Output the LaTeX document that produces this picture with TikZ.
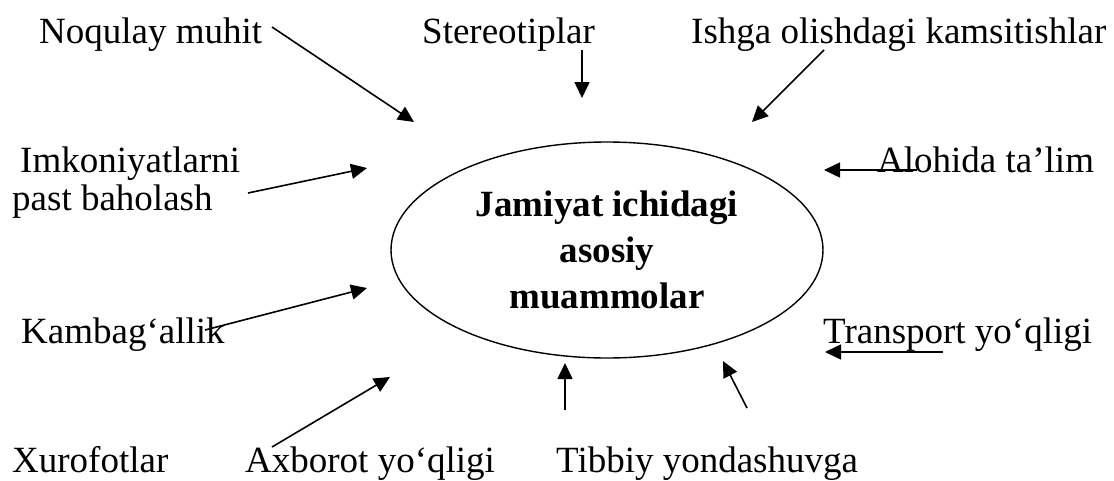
\documentclass[tikz,border=0pt]{standalone}
\usepackage{fontspec}
\setmainfont{Liberation Serif}
\usetikzlibrary{arrows.meta,shapes.geometric}
\begin{document}
\begin{tikzpicture}[x=1pt,y=-1pt,
  lbl/.style={font=\fontsize{37}{44}\selectfont, inner sep=0pt, anchor=base west},
  arr/.style={line width=1.6pt, -{Triangle[length=16pt,width=15pt]}}]
\useasboundingbox (0,0) rectangle (1114,480);
\node[draw, ellipse, line width=1.4pt, minimum width=432pt, minimum height=216pt,
      align=center, font=\fontsize{37}{46}\selectfont\bfseries] (core) at (607,250)
      {Jamiyat ichidagi\\asosiy\\muammolar};
% labels
\node[lbl] (noq) at (39,43) {Noqulay muhit};
\node[lbl] (ster) at (422,43) {Stereotiplar};
\node[lbl] (ishga) at (691,43) {Ishga olishdagi kamsitishlar};
\node[lbl] (imk) at (20,172) {Imkoniyatlarni};
\node[lbl] (past) at (12,210) {past baholash};
\node[lbl] (aloh) at (877,172) {Alohida ta’lim};
\node[lbl] (kamb) at (21,343) {Kambag‘allik};
\node[lbl] (trans) at (823,343) {Transport yo‘qligi};
\node[lbl] (xur) at (12,472) {Xurofotlar};
\node[lbl] (axb) at (245,472) {Axborot yo‘qligi};
\node[lbl] (tibb) at (556,472) {Tibbiy yondashuvga};
% arrow end points
\coordinate (noqA) at (272,27);   \coordinate (noqB) at (414,122);
\coordinate (sterA) at (582,50);  \coordinate (sterB) at (582,98);
\coordinate (ishA) at (824,50);   \coordinate (ishB) at (752,122);
\coordinate (imkA) at (248,193);  \coordinate (imkB) at (367,168);
\coordinate (alA) at (917,170);   \coordinate (alB) at (824,170);
\coordinate (kaA) at (205,330);   \coordinate (kaB) at (367,288);
\coordinate (trA) at (943,352);   \coordinate (trB) at (825,352);
\coordinate (axA) at (272,447);   \coordinate (axB) at (390,377);
\coordinate (tiA) at (565,410);   \coordinate (tiB) at (565,363);
\coordinate (tdA) at (747,408);   \coordinate (tdB) at (723,361);
% arrows
\draw[arr] (noqA) -- (noqB);
\draw[arr] (sterA) -- (sterB);
\draw[arr] (ishA) -- (ishB);
\draw[arr] (imkA) -- (imkB);
\draw[arr] (alA) -- (alB);
\draw[arr] (kaA) -- (kaB);
\draw[arr] (trA) -- (trB);
\draw[arr] (axA) -- (axB);
\draw[arr] (tiA) -- (tiB);
\draw[arr] (tdA) -- (tdB);
\end{tikzpicture}
\end{document}
